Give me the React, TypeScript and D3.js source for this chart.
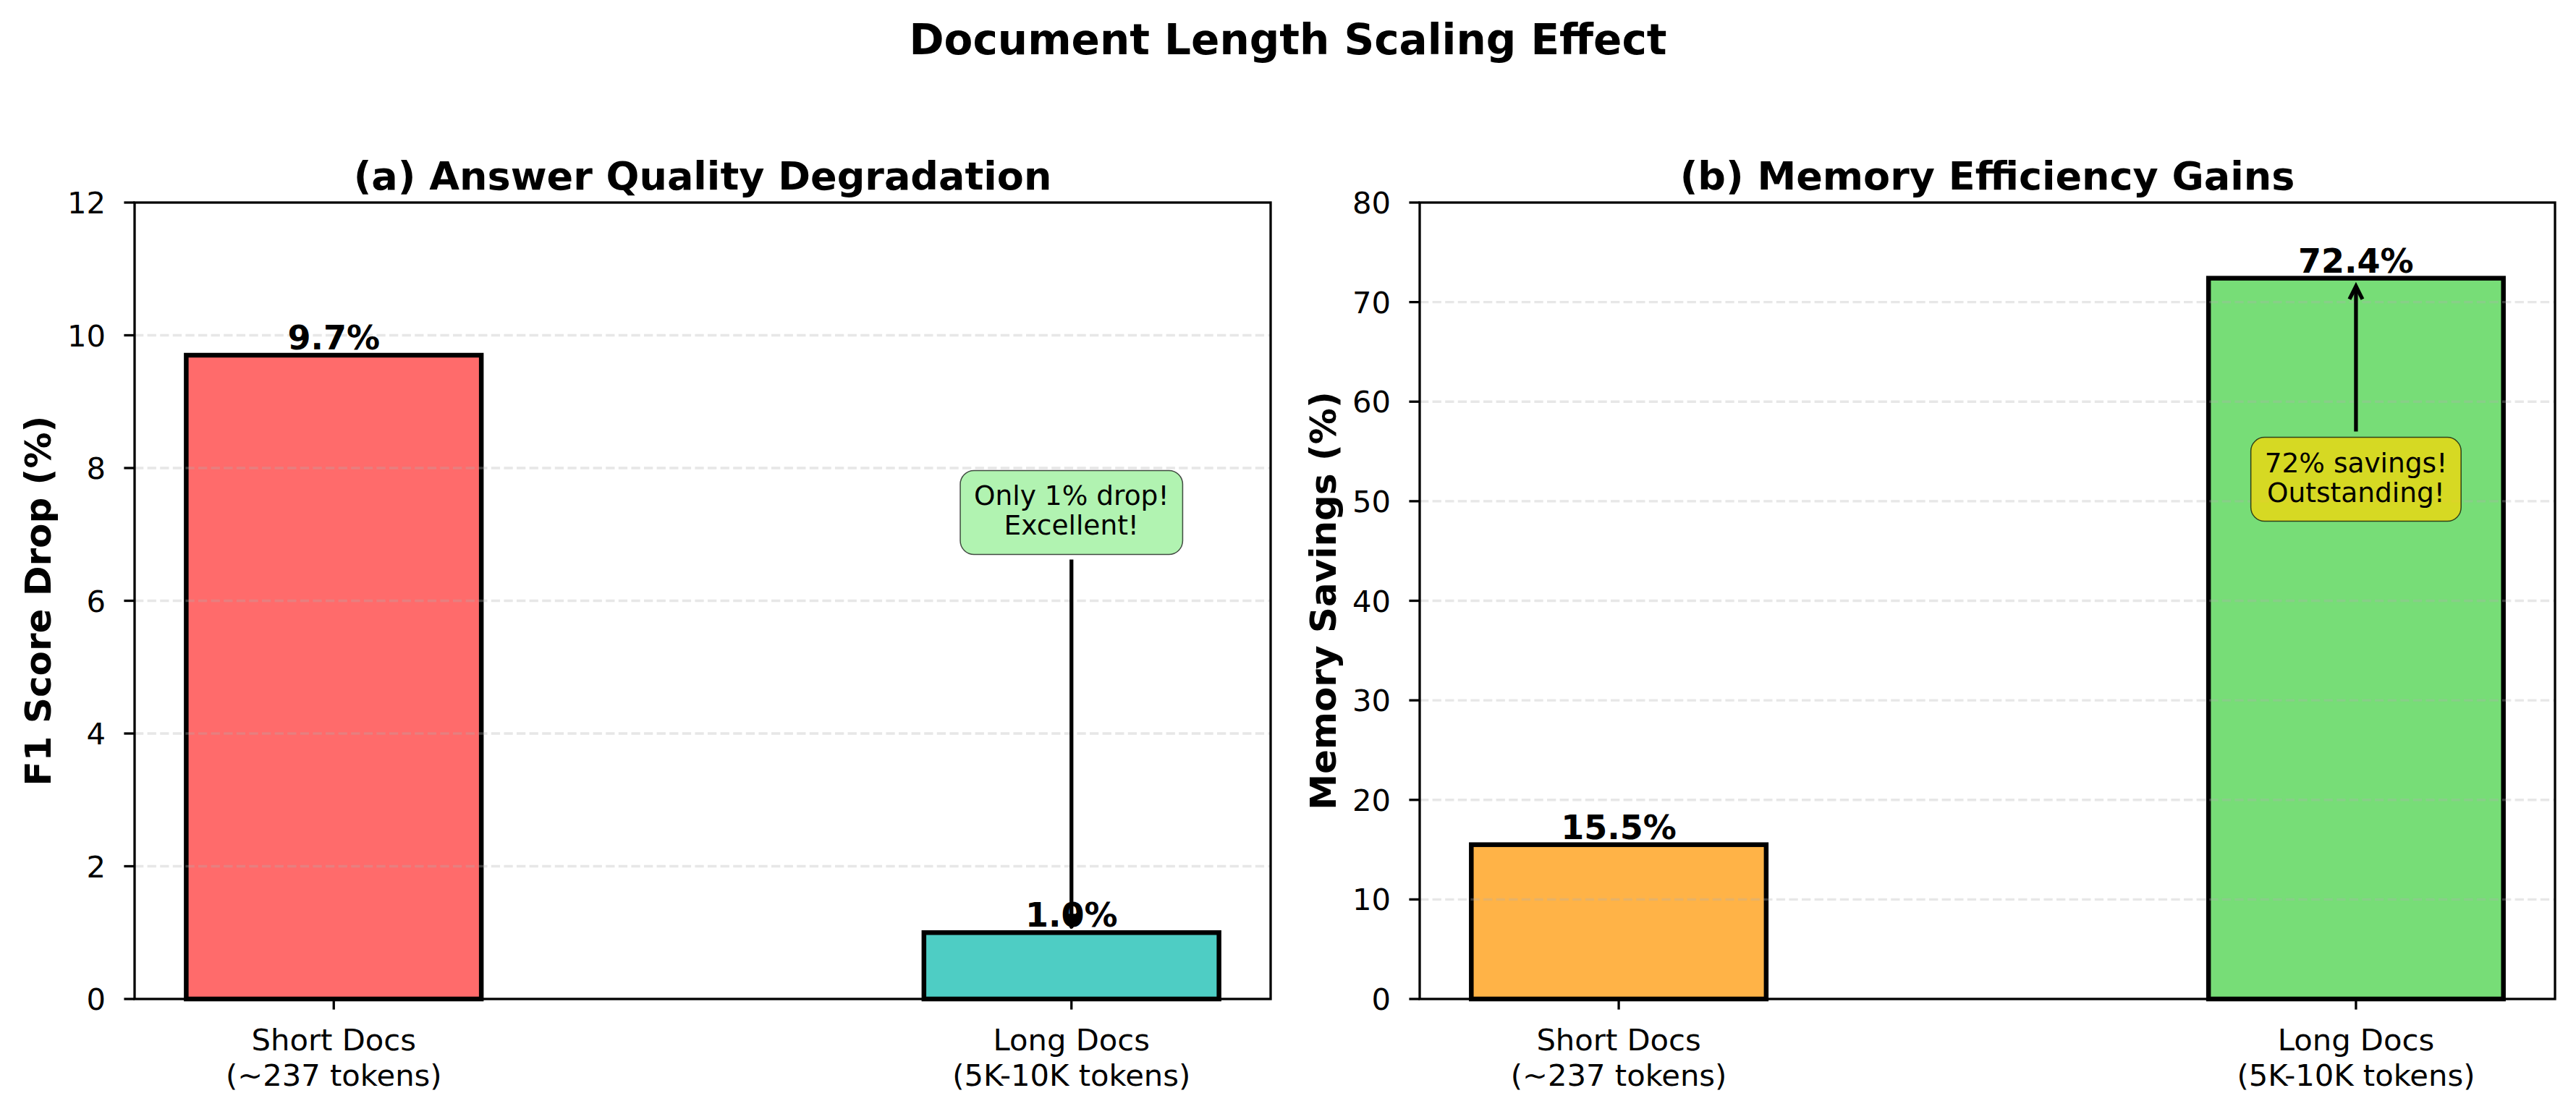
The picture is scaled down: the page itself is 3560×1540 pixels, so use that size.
import React from "react";
import * as d3 from "d3";

// ---------- data ----------
const categoryLines: string[][] = [
  ["Short Docs", "(~237 tokens)"],
  ["Long Docs", "(5K-10K tokens)"],
];
const f1DropValues = [9.7, 1.0];
const memorySavingsValues = [15.5, 72.4];
const f1Colors = ["#FF6B6B", "#4ECDC4"];
const memoryColors = ["#FFB347", "#77DD77"];
const f1Ticks = [0, 2, 4, 6, 8, 10, 12];
const memoryTicks = [0, 10, 20, 30, 40, 50, 60, 70, 80];
const f1Annotation = {
  lines: ["Only 1% drop!", "Excellent!"],
  target: [1, 1.0],
  textAt: [1, 7.33],
  fill: "#90EE90",
};
const memoryAnnotation = {
  lines: ["72% savings!", "Outstanding!"],
  target: [1, 72.4],
  textAt: [1, 52.2],
  fill: "#FFD700",
};

const W = 3560;
const H = 1540;
const FONT = "DejaVu Sans, Verdana, sans-serif";

let ctx: CanvasRenderingContext2D | null = null;
function measure(text: string, font: string): number {
  if (!ctx) ctx = document.createElement("canvas").getContext("2d");
  if (!ctx) return text.length * 20;
  ctx.font = font;
  return ctx.measureText(text).width;
}

type Ann = { lines: string[]; target: number[]; textAt: number[]; fill: string };

function Panel(props: {
  x0: number;
  x1: number;
  y0: number;
  y1: number;
  title: string;
  ylabel: string;
  values: number[];
  colors: string[];
  ticks: number[];
  ann: Ann;
}) {
  const { x0, x1, y0, y1, title, ylabel, values, colors, ticks, ann } = props;
  const x = d3.scaleLinear().domain([-0.27, 1.27]).range([x0, x1]);
  const y = d3
    .scaleLinear()
    .domain([0, ticks[ticks.length - 1]])
    .range([y1, y0]);
  const barW = 0.4;
  const cx = (x0 + x1) / 2;
  const cy = (y0 + y1) / 2;

  // annotation geometry
  const annFont = 37.5;
  const tw = Math.max(...ann.lines.map((l) => measure(l, `${annFont}px DejaVu Sans`)));
  const padX = 19;
  const boxW = tw + padX * 2;
  const boxH = 116;
  const bx = x(ann.textAt[0]);
  const by = y(ann.textAt[1]);
  const tx = x(ann.target[0]);
  const ty = y(ann.target[1]);
  const downward = ty > by; // arrow goes down from box to target
  const startY = downward ? by + boxH / 2 + 7 : by - boxH / 2 - 8;
  const tipY = downward ? ty - 8 : ty + 11;
  const dir = downward ? 1 : -1;
  const headL = 18;
  const headW = 9;

  return (
    <g>
      {/* title */}
      <text
        x={cx}
        y={262}
        textAnchor="middle"
        fontFamily={FONT}
        fontWeight="bold"
        fontSize={54}
      >
        {title}
      </text>
      {/* bars */}
      {values.map((v, i) => (
        <rect
          key={i}
          x={x(i - barW / 2)}
          y={y(v)}
          width={x(i + barW / 2) - x(i - barW / 2)}
          height={y(0) - y(v)}
          fill={colors[i]}
          stroke="#000"
          strokeWidth={6.5}
        />
      ))}
      {/* grid */}
      {ticks
        .filter((t) => t > 0 && t < ticks[ticks.length - 1])
        .map((t) => (
          <line
            key={t}
            x1={x0}
            x2={x1}
            y1={y(t)}
            y2={y(t)}
            stroke="#b0b0b0"
            strokeOpacity={0.3}
            strokeWidth={3.3}
            strokeDasharray="12.3 5.3"
          />
        ))}
      {/* spines */}
      <rect x={x0} y={y0} width={x1 - x0} height={y1 - y0} fill="none" stroke="#000" strokeWidth={3.3} />
      {/* y ticks */}
      {ticks.map((t) => (
        <g key={t}>
          <line x1={x0 - 14.6} x2={x0} y1={y(t)} y2={y(t)} stroke="#000" strokeWidth={3.3} />
          <text
            x={x0 - 40}
            y={y(t)}
            dy="0.36em"
            textAnchor="end"
            fontFamily={FONT}
            fontSize={41.7}
          >
            {t}
          </text>
        </g>
      ))}
      {/* x ticks */}
      {categoryLines.map((lines, i) => (
        <g key={i}>
          <line x1={x(i)} x2={x(i)} y1={y1} y2={y1 + 14.6} stroke="#000" strokeWidth={3.3} />
          {lines.map((l, j) => (
            <text
              key={j}
              x={x(i)}
              y={1452 + j * 49}
              textAnchor="middle"
              fontFamily={FONT}
              fontSize={41.7}
            >
              {l}
            </text>
          ))}
        </g>
      ))}
      {/* y label */}
      <text
        transform={`translate(${x0 - 116},${cy}) rotate(-90)`}
        textAnchor="middle"
        fontFamily={FONT}
        fontWeight="bold"
        fontSize={50}
      >
        {ylabel}
      </text>
      {/* bar value labels */}
      {values.map((v, i) => (
        <text
          key={i}
          x={x(i)}
          y={y(v) - 8}
          textAnchor="middle"
          fontFamily={FONT}
          fontWeight="bold"
          fontSize={46}
        >
          {`${v.toFixed(1)}%`}
        </text>
      ))}
      {/* annotation */}
      <rect
        x={bx - boxW / 2}
        y={by - boxH / 2}
        width={boxW}
        height={boxH}
        rx={19}
        ry={19}
        fill={ann.fill}
        fillOpacity={0.7}
        stroke="#000"
        strokeOpacity={0.7}
        strokeWidth={1.5}
      />
      {ann.lines.map((l, j) => (
        <text
          key={j}
          x={bx}
          y={by - 10 + j * 41}
          textAnchor="middle"
          fontFamily={FONT}
          fontSize={annFont}
        >
          {l}
        </text>
      ))}
      <line x1={tx} x2={tx} y1={startY} y2={tipY} stroke="#000" strokeWidth={5.3} />
      <path
        d={`M${tx - headW},${tipY - dir * headL} L${tx},${tipY} L${tx + headW},${tipY - dir * headL}`}
        fill={downward ? "#000" : "none"}
        stroke="#000"
        strokeWidth={5.3}
        strokeLinejoin={downward ? "round" : "miter"}
      />
    </g>
  );
}

export default function App() {
  return (
    <div style={{ position: "fixed", left: 0, top: 0, width: W, height: H, background: "#fff" }}>
      <svg width={W} height={H} viewBox={`0 0 ${W} ${H}`}>
        <rect width={W} height={H} fill="#fff" />
        <text
          x={W / 2}
          y={75}
          textAnchor="middle"
          fontFamily={FONT}
          fontWeight="bold"
          fontSize={58}
        >
          Document Length Scaling Effect
        </text>
        <Panel
          x0={186}
          x1={1756}
          y0={280}
          y1={1381}
          title="(a) Answer Quality Degradation"
          ylabel="F1 Score Drop (%)"
          values={f1DropValues}
          colors={f1Colors}
          ticks={f1Ticks}
          ann={f1Annotation}
        />
        <Panel
          x0={1962}
          x1={3531}
          y0={280}
          y1={1381}
          title="(b) Memory Efficiency Gains"
          ylabel="Memory Savings (%)"
          values={memorySavingsValues}
          colors={memoryColors}
          ticks={memoryTicks}
          ann={memoryAnnotation}
        />
      </svg>
    </div>
  );
}
